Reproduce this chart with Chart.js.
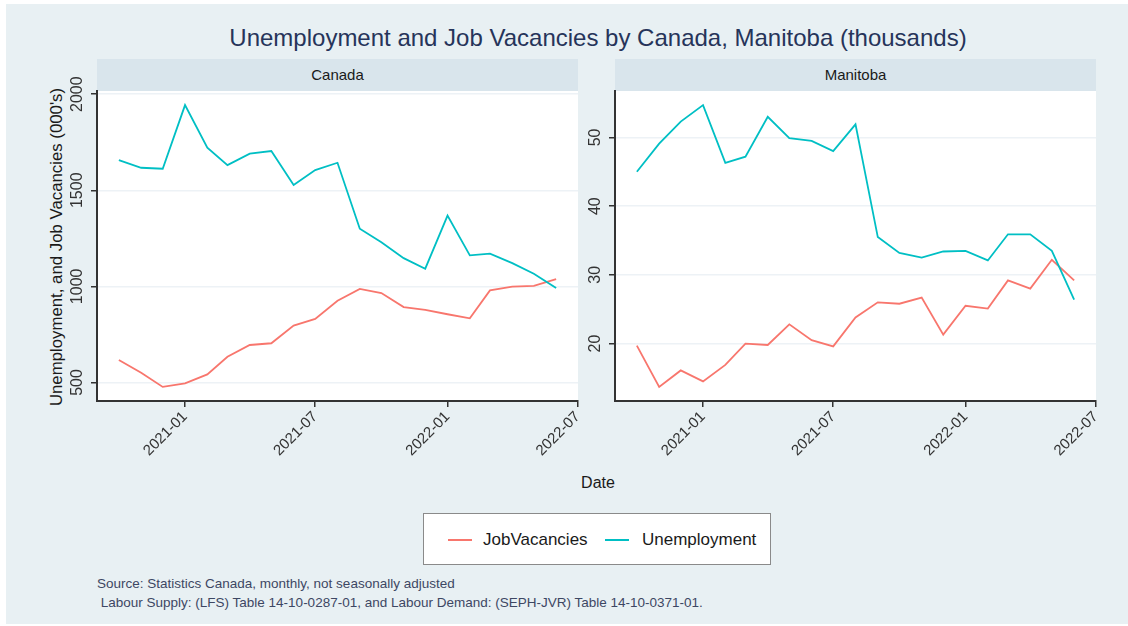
<!DOCTYPE html>
<html>
<head>
<meta charset="utf-8">
<script src="https://cdn.jsdelivr.net/npm/chart.js@4.4.0/dist/chart.umd.min.js"></script>
<style>
  body { margin: 0; background: #ffffff; font-family: "Liberation Sans", Arial, sans-serif; }
  #page { position: relative; width: 1128px; height: 626px; overflow: hidden; }
  #bg { position: absolute; left: 6px; top: 4px; width: 1122px; height: 620px; background: #e8f0f3; }
  .abs { position: absolute; }
  #title { left: 0; width: 1196px; top: 24px; text-align: center; font-size: 24px; color: #26345a; }
  .strip { top: 59px; width: 481px; height: 32px; background: #d9e5ec; text-align: center;
           line-height: 32px; font-size: 15px; color: #1a1a1a; }
  #ytitle { left: 57px; top: 247px; transform: translate(-50%, -50%) rotate(-90deg);
            white-space: nowrap; font-size: 16.8px; color: #1a1a1a; }
  #xtitle { left: 598px; top: 483px; transform: translate(-50%, -50%); font-size: 16px; color: #1a1a1a; }
  #legend { left: 423px; top: 513px; width: 346px; height: 50px; background: #fff; border: 1px solid #8a8a8a;
            font-size: 17px; color: #1a1a1a; }
  .key { position: absolute; top: 25px; width: 24px; height: 2px; }
  .ktext { position: absolute; top: 16px; }
  #source { left: 97px; top: 574px; font-size: 13.5px; color: #3d4763; line-height: 19px; white-space: pre; }
  canvas { position: absolute; }
</style>
</head>
<body>
<div id="page">
  <div id="bg"></div>
  <div id="title" class="abs">Unemployment and Job Vacancies by Canada, Manitoba (thousands)</div>
  <div class="abs strip" style="left:97px">Canada</div>
  <div class="abs strip" style="left:615px">Manitoba</div>
  <div id="ytitle" class="abs">Unemployment, and Job Vacancies (000's)</div>
  <div id="xtitle" class="abs">Date</div>
  <canvas id="canada" width="590" height="411" style="left:0;top:60px"></canvas>
  <canvas id="manitoba" width="600" height="411" style="left:520px;top:60px"></canvas>
  <div id="legend" class="abs">
    <div class="key" style="left:24px;background:#F8766D"></div>
    <div class="ktext" style="left:59px">JobVacancies</div>
    <div class="key" style="left:181px;background:#00BFC4"></div>
    <div class="ktext" style="left:218px">Unemployment</div>
  </div>
  <div id="source" class="abs">Source: Statistics Canada, monthly, not seasonally adjusted
 Labour Supply: (LFS) Table 14-10-0287-01, and Labour Demand: (SEPH-JVR) Table 14-10-0371-01.</div>
</div>

<script>
// monthly observations, thousands
const months = ['2020-10', '2020-11', '2020-12', '2021-01', '2021-02', '2021-03', '2021-04',
  '2021-05', '2021-06', '2021-07', '2021-08', '2021-09', '2021-10', '2021-11', '2021-12',
  '2022-01', '2022-02', '2022-03', '2022-04', '2022-05', '2022-06'];

const canadaUnemployment = [1657, 1617, 1612, 1943, 1722, 1631, 1690, 1704, 1527, 1605, 1643,
  1300, 1229, 1147, 1092, 1368, 1161, 1170, 1121, 1066, 991];
const canadaVacancies = [617, 551, 477, 495, 542, 634, 695, 704, 796, 831, 925,
  987, 965, 892, 878, 855, 834, 979, 999, 1003, 1038];

const manitobaUnemployment = [45.0, 49.1, 52.3, 54.7, 46.3, 47.2, 53.0, 49.9, 49.5, 48.0, 51.9,
  35.5, 33.2, 32.5, 33.4, 33.5, 32.1, 35.9, 35.9, 33.5, 26.4];
const manitobaVacancies = [19.7, 13.7, 16.1, 14.5, 16.9, 20.0, 19.8, 22.8, 20.5, 19.6, 23.8,
  26.0, 25.8, 26.7, 21.3, 25.5, 25.1, 29.2, 28.0, 32.2, 29.2];

const dateTicks = ['2021-01', '2021-07', '2022-01', '2022-07'];
const canadaTicks = [500, 1000, 1500, 2000];
const manitobaTicks = [20, 30, 40, 50];

// dates -> day numbers so the x axis is spaced by real time
const dayNum = (ym) => {
  const [y, m] = ym.split('-').map(Number);
  return Date.UTC(y, m - 1, 1) / 86400000;
};
const labelByDay = {};
dateTicks.forEach((d) => { labelByDay[dayNum(d)] = d; });

// 5% padding on each side, like ggplot's default expansion
const expand = (lo, hi) => {
  const pad = (hi - lo) * 0.05;
  return [lo - pad, hi + pad];
};

const FONT = '"Liberation Sans", Arial, sans-serif';

// white panel behind the plot area
const panelBg = {
  id: 'panelBg',
  beforeDraw(chart) {
    const { ctx, chartArea: a } = chart;
    ctx.save();
    ctx.fillStyle = '#ffffff';
    ctx.fillRect(a.left, a.top, a.right - a.left, a.bottom - a.top);
    ctx.restore();
  },
};

// vertical y tick labels
const yLabels = {
  id: 'yLabels',
  afterDraw(chart) {
    const { ctx, chartArea: a } = chart;
    const y = chart.scales.y;
    ctx.save();
    ctx.fillStyle = '#333333';
    ctx.font = '16px ' + FONT;
    ctx.textAlign = 'center';
    ctx.textBaseline = 'middle';
    y.ticks.forEach((t) => {
      ctx.save();
      ctx.translate(a.left - 19, y.getPixelForValue(t.value));
      ctx.rotate(-Math.PI / 2);
      ctx.fillText(String(t.value), 0, 0);
      ctx.restore();
    });
    ctx.restore();
  },
};

function makePanel(id, unemployment, vacancies, yTicks, axisWidth, padRight) {
  const xs = months.map(dayNum);
  const [xMin, xMax] = expand(xs[0], xs[xs.length - 1]);
  const all = unemployment.concat(vacancies);
  const [yMin, yMax] = expand(Math.min(...all), Math.max(...all));

  const toPoints = (vals) => vals.map((v, i) => ({ x: xs[i], y: v }));

  return new Chart(document.getElementById(id), {
    type: 'line',
    data: {
      datasets: [
        { label: 'Unemployment', data: toPoints(unemployment), borderColor: '#00BFC4', borderWidth: 1.8 },
        { label: 'JobVacancies', data: toPoints(vacancies), borderColor: '#F8766D', borderWidth: 1.8 },
      ],
    },
    options: {
      responsive: false,
      animation: false,
      layout: { autoPadding: false, padding: { top: 31, left: 0, bottom: 0, right: padRight } },
      elements: { point: { radius: 0 }, line: { tension: 0 } },
      plugins: { legend: { display: false }, tooltip: { enabled: false } },
      scales: {
        x: {
          type: 'linear',
          min: xMin,
          max: xMax,
          afterBuildTicks: (s) => { s.ticks = dateTicks.map((d) => ({ value: dayNum(d) })); },
          afterFit: (s) => { s.height = 70; s.paddingLeft = 0; s.paddingRight = 0; },
          grid: { drawOnChartArea: false, drawTicks: true, tickLength: 6, color: '#333333', lineWidth: 1.5 },
          border: { color: '#333333', width: 2 },
          ticks: {
            autoSkip: false,
            minRotation: 45,
            maxRotation: 45,
            padding: 1,
            color: '#333333',
            font: { family: FONT, size: 15 },
            callback: (v) => labelByDay[v] || '',
          },
        },
        y: {
          type: 'linear',
          min: yMin,
          max: yMax,
          afterBuildTicks: (s) => { s.ticks = yTicks.map((v) => ({ value: v })); },
          afterFit: (s) => { s.width = axisWidth; s.paddingTop = 0; s.paddingBottom = 0; },
          grid: { color: '#edf2f6', lineWidth: 1.5, tickColor: '#333333', tickLength: 6 },
          border: { color: '#333333', width: 2 },
          ticks: { display: false },
        },
      },
    },
    plugins: [panelBg, yLabels],
  });
}

makePanel('canada', canadaUnemployment, canadaVacancies, canadaTicks, 97, 12);
makePanel('manitoba', manitobaUnemployment, manitobaVacancies, manitobaTicks, 95, 24);
</script>
</body>
</html>
